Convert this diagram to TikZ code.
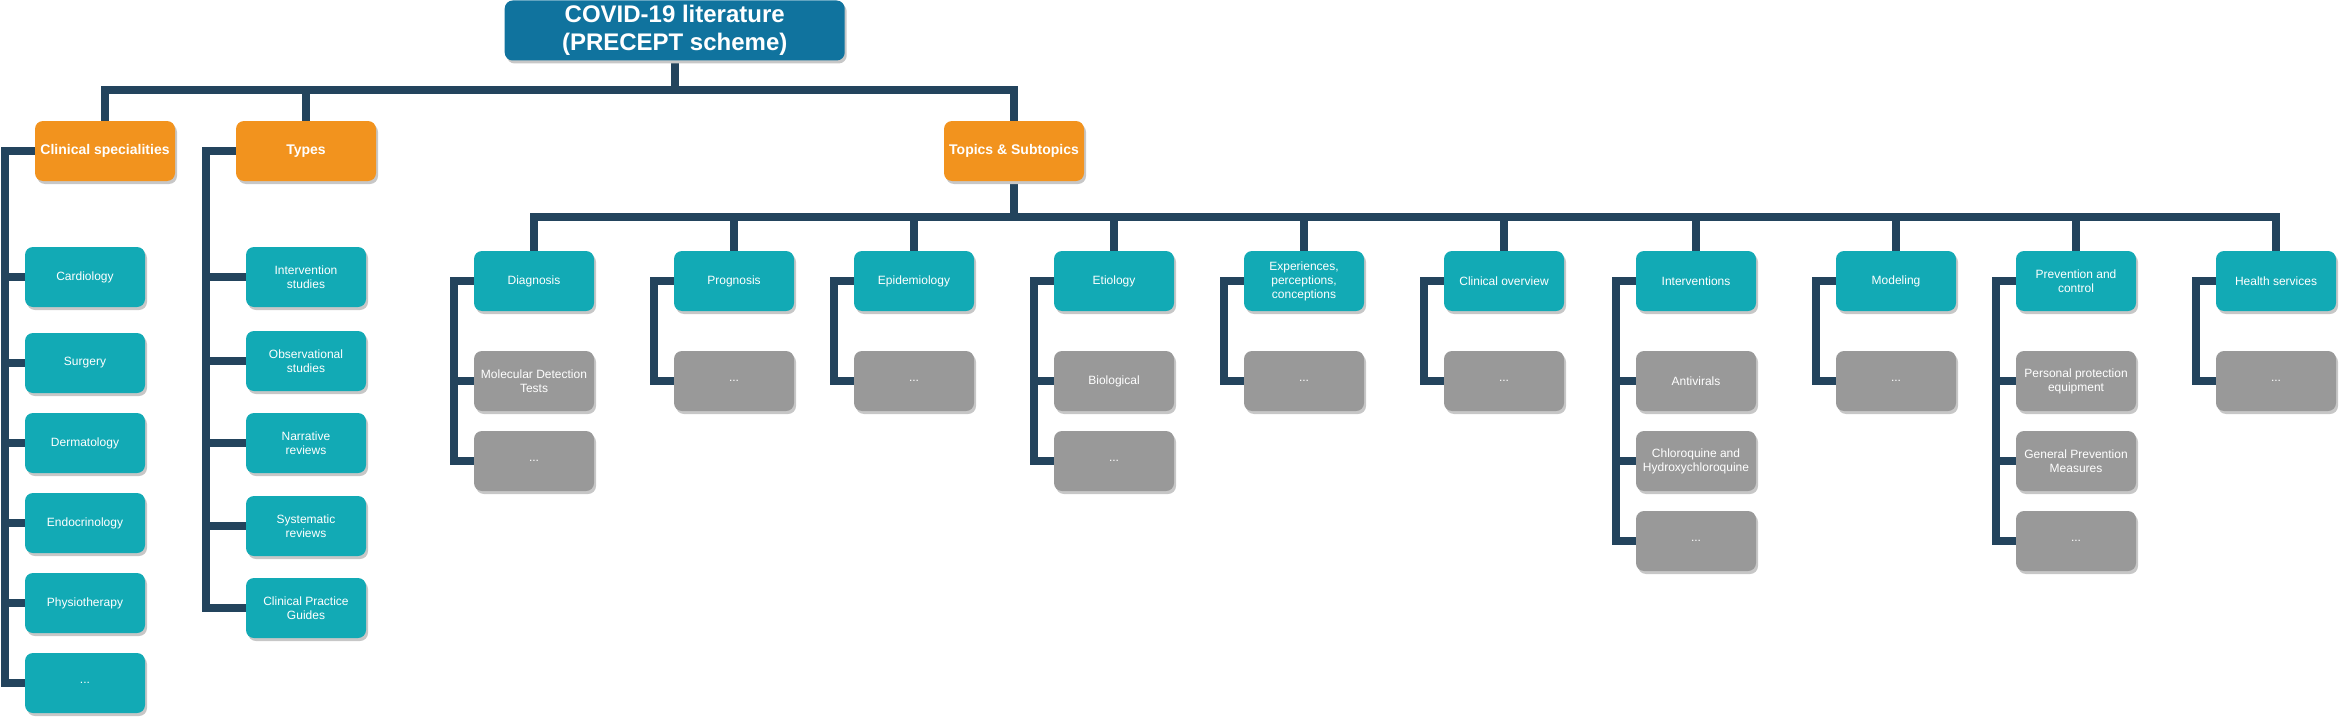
\documentclass[tikz,border=0pt]{standalone}
\usepackage{fontspec}
\setmainfont{Liberation Sans}
\usetikzlibrary{shadows,backgrounds}
\definecolor{topc}{HTML}{10739E}
\definecolor{orangec}{HTML}{F2931E}
\definecolor{tealc}{HTML}{12AAB5}
\definecolor{grayc}{HTML}{999999}
\definecolor{linec}{HTML}{23445D}
\tikzset{
  box/.style={rectangle, rounded corners=8pt, minimum width=120pt, minimum height=60pt,
    inner sep=2pt, text=white, align=center, font=\fontsize{12}{14}\selectfont,
    general shadow={fill=black!22, shadow xshift=2pt, shadow yshift=-3pt}},
  tealbox/.style={box, fill=tealc},
  graybox/.style={box, fill=grayc},
  orangebox/.style={box, fill=orangec, minimum width=140pt, font=\bfseries\fontsize{14}{16}\selectfont},
  topbox/.style={box, fill=topc, minimum width=340pt, font=\bfseries\fontsize{24}{28}\selectfont},
  conn/.style={draw=linec, line width=8pt, line join=miter},
}
\begin{document}
\begin{tikzpicture}[x=1pt,y=-1pt]
\useasboundingbox (0,0) rectangle (2339,717);
% top
\node[topbox] (top) at (674.7,30.5) {COVID-19 literature\\(PRECEPT scheme)};
% level 1
\node[orangebox] (cs) at (105,151) {Clinical specialities};
\node[orangebox] (ty) at (306,151) {Types};
\node[orangebox] (tp) at (1014,151) {Topics \& Subtopics};
% clinical specialities children
\node[tealbox] (cs1) at (85,277) {Cardiology};
\node[tealbox] (cs2) at (85,363) {Surgery};
\node[tealbox] (cs3) at (85,443) {Dermatology};
\node[tealbox] (cs4) at (85,523) {Endocrinology};
\node[tealbox] (cs5) at (85,603) {Physiotherapy};
\node[tealbox] (cs6) at (85,683) {...};
% types children
\node[tealbox] (ty1) at (306,277) {Intervention\\studies};
\node[tealbox] (ty2) at (306,361) {Observational\\studies};
\node[tealbox] (ty3) at (306,443) {Narrative\\reviews};
\node[tealbox] (ty4) at (306,526) {Systematic\\reviews};
\node[tealbox] (ty5) at (306,608) {Clinical Practice\\Guides};
% topics
\node[tealbox] (t1) at (534,281) {Diagnosis};
\node[tealbox] (t2) at (734,281) {Prognosis};
\node[tealbox] (t3) at (914,281) {Epidemiology};
\node[tealbox] (t4) at (1114,281) {Etiology};
\node[tealbox] (t5) at (1304,281) {Experiences,\\perceptions,\\conceptions};
\node[tealbox] (t6) at (1504,281) {Clinical overview};
\node[tealbox] (t7) at (1696,281) {Interventions};
\node[tealbox] (t8) at (1896,281) {Modeling};
\node[tealbox] (t9) at (2076,281) {Prevention and\\control};
\node[tealbox] (t10) at (2276,281) {Health services};
% subtopics
\node[graybox] (t1a) at (534,381) {Molecular Detection\\Tests};
\node[graybox] (t1b) at (534,461) {...};
\node[graybox] (t2a) at (734,381) {...};
\node[graybox] (t3a) at (914,381) {...};
\node[graybox] (t4a) at (1114,381) {Biological};
\node[graybox] (t4b) at (1114,461) {...};
\node[graybox] (t5a) at (1304,381) {...};
\node[graybox] (t6a) at (1504,381) {...};
\node[graybox] (t7a) at (1696,381) {Antivirals};
\node[graybox] (t7b) at (1696,461) {Chloroquine and\\Hydroxychloroquine};
\node[graybox] (t7c) at (1696,541) {...};
\node[graybox] (t8a) at (1896,381) {...};
\node[graybox] (t9a) at (2076,381) {Personal protection\\equipment};
\node[graybox] (t9b) at (2076,461) {General Prevention\\Measures};
\node[graybox] (t9c) at (2076,541) {...};
\node[graybox] (t10a) at (2276,381) {...};
\coordinate (topbar) at (674.7,90);
\coordinate (tpbar) at (1014,216.5);
\begin{pgfonlayer}{background}
\foreach \n in {cs,ty,tp} \draw[conn] (top.south) -- (topbar) -| (\n.north);
\foreach \i in {1,...,10} \draw[conn] (tp.south) -- (tpbar) -| (t\i.north);
\foreach \i in {1,...,6} \draw[conn] (cs.west) -- ++(-30,0) |- (cs\i.west);
\foreach \i in {1,...,5} \draw[conn] (ty.west) -- ++(-30,0) |- (ty\i.west);
\foreach \p/\c in {t1/t1a,t1/t1b,t2/t2a,t3/t3a,t4/t4a,t4/t4b,t5/t5a,t6/t6a,t7/t7a,t7/t7b,t7/t7c,t8/t8a,t9/t9a,t9/t9b,t9/t9c,t10/t10a}
  \draw[conn] (\p.west) -- ++(-20,0) |- (\c.west);
\end{pgfonlayer}
\end{tikzpicture}
\end{document}
